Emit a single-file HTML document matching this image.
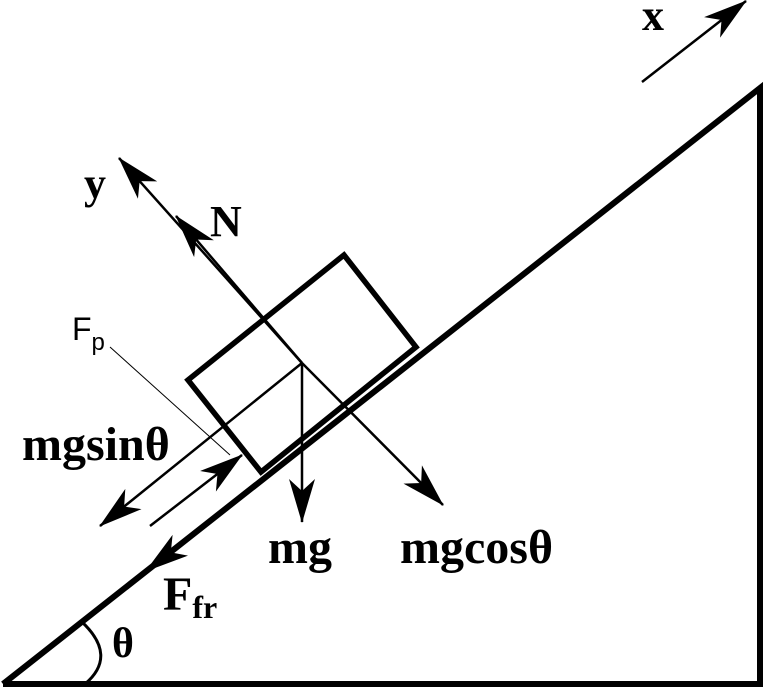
<!DOCTYPE html>
<html><head><style>body{margin:0;background:#fff}svg{display:block}</style></head><body>
<svg width="766" height="687" viewBox="0 0 766 687" xmlns="http://www.w3.org/2000/svg">
<defs>
<marker id="a" viewBox="0 0 44 26" refX="43" refY="13" markerWidth="44" markerHeight="26" markerUnits="userSpaceOnUse" orient="auto">
<path d="M0,0 L44,13 L0,26 L12,13 Z" fill="#000"/></marker>
</defs>
<g fill="none" stroke="#000">
<polyline points="3,684 760,684 760,88 3,684" stroke-width="6" stroke-linejoin="miter"/>
<polygon points="188,380 344,255 416,347 261,472" stroke-width="5.5"/>
<line x1="302" y1="363" x2="302" y2="522" stroke-width="2.5" marker-end="url(#a)"/>
<line x1="302" y1="363" x2="443" y2="505" stroke-width="2.5" marker-end="url(#a)"/>
<line x1="302" y1="363" x2="119" y2="158" stroke-width="2.5" marker-end="url(#a)"/>
<line x1="302" y1="363" x2="176" y2="216" stroke-width="2.5" marker-end="url(#a)"/>
<line x1="302" y1="363" x2="100" y2="526" stroke-width="2.5" marker-end="url(#a)"/>
<line x1="150" y1="526" x2="242" y2="455" stroke-width="2.5" marker-end="url(#a)"/>
<line x1="210" y1="523" x2="146" y2="571" stroke-width="0.1" marker-end="url(#a)"/>
<line x1="642" y1="82" x2="746" y2="1" stroke-width="2.5" marker-end="url(#a)"/>
<line x1="110" y1="347" x2="230" y2="455" stroke-width="1"/>
<path d="M82,622 Q118,656 85,684" stroke-width="3"/>
</g>
<g font-family="Liberation Serif, serif" font-weight="bold" fill="#000">
<text x="642" y="30" font-size="44">x</text>
<text x="84" y="198" font-size="44">y</text>
<text x="210" y="236" font-size="44">N</text>
<text x="22" y="460" font-size="48">mgsinθ</text>
<text x="268" y="563" font-size="48">mg</text>
<text x="400" y="563" font-size="48">mgcosθ</text>
<text x="163" y="610" font-size="48">F<tspan font-size="32" dy="8">fr</tspan></text>
<text x="112" y="657" font-size="42">θ</text>
</g>
<text x="72" y="340" font-family="Liberation Sans, sans-serif" font-size="32">F<tspan font-size="24" dy="10">p</tspan></text>
</svg>
</body></html>
